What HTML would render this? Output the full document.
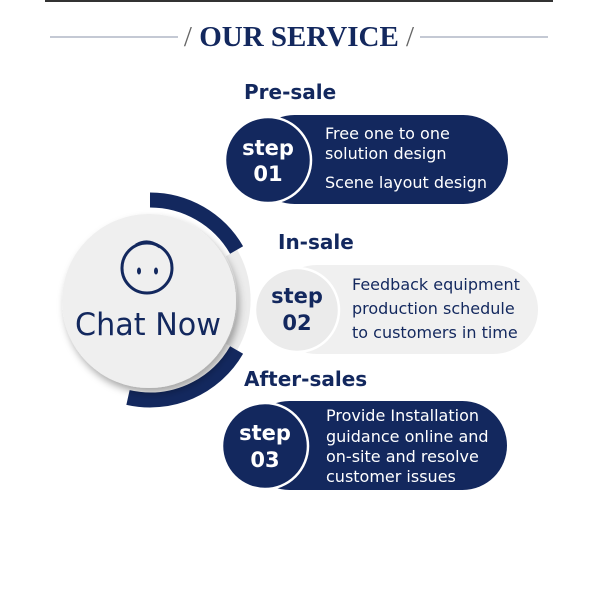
<!DOCTYPE html>
<html><head><style>body{margin:0;background:#fff}svg{display:block}</style></head><body>
<svg width="600" height="600" viewBox="0 0 600 600" xmlns="http://www.w3.org/2000/svg">
<defs><filter id="sh" x="-20%" y="-20%" width="150%" height="150%"><feDropShadow dx="3" dy="5" stdDeviation="4" flood-color="#000" flood-opacity="0.35"/></filter></defs>
<rect x="45" y="0" width="508" height="2" fill="#333"/>
<line x1="50" y1="37" x2="178" y2="37" stroke="#8a93a8" stroke-width="1"/>
<line x1="420" y1="37" x2="548" y2="37" stroke="#8a93a8" stroke-width="1"/>
<text x="299" y="46" text-anchor="middle" font-family="Liberation Serif, serif" font-weight="bold" font-size="29" fill="#13285e"><tspan font-weight="normal" fill="#666">/ </tspan>OUR SERVICE<tspan font-weight="normal" fill="#666"> /</tspan></text>

<!-- ring -->
<path d="M231.5 253 A94 94 0 0 1 231.5 347" fill="none" stroke="#ececec" stroke-width="13"/>
<path d="M150 200 A100 100 0 0 1 236.6 250" fill="none" stroke="#13285e" stroke-width="15"/>
<path d="M236.6 350 A100 100 0 0 1 128 397.5" fill="none" stroke="#13285e" stroke-width="15"/>
<circle cx="149" cy="301" r="87" fill="#efefef" filter="url(#sh)"/>
<circle cx="147" cy="268" r="25" fill="none" stroke="#13285e" stroke-width="3"/>
<path d="M136 245 Q148 238 160 247" fill="none" stroke="#13285e" stroke-width="3"/>
<ellipse cx="139" cy="271" rx="2" ry="3.5" fill="#13285e"/>
<ellipse cx="156" cy="271" rx="2" ry="3.5" fill="#13285e"/>
<text x="148" y="335" text-anchor="middle" font-family="DejaVu Sans, sans-serif" font-size="31" fill="#13285e" textLength="146" lengthAdjust="spacingAndGlyphs">Chat Now</text>

<g font-family="DejaVu Sans, sans-serif">
<text x="244" y="99" font-weight="bold" font-size="20" fill="#13285e">Pre-sale</text>
<rect x="250" y="115" width="258" height="89" rx="44.5" fill="#13285e"/>
<circle cx="268" cy="160" r="43" fill="#13285e" stroke="#fff" stroke-width="2.5"/>
<text x="268" y="155" text-anchor="middle" font-weight="bold" font-size="21" fill="#fff">step</text>
<text x="268" y="181" text-anchor="middle" font-weight="bold" font-size="21" fill="#fff">01</text>
<g font-size="16" fill="#fff"><text x="325" y="139">Free one to one</text><text x="325" y="159">solution design</text><text x="325" y="188">Scene layout design</text></g>

<text x="278" y="249" font-weight="bold" font-size="20" fill="#13285e">In-sale</text>
<rect x="272" y="265" width="266" height="89" rx="44.5" fill="#f0f0f0"/>
<circle cx="297" cy="310" r="42" fill="#ebebeb" stroke="#fff" stroke-width="2.5"/>
<text x="297" y="303" text-anchor="middle" font-weight="bold" font-size="21" fill="#13285e">step</text>
<text x="297" y="330" text-anchor="middle" font-weight="bold" font-size="21" fill="#13285e">02</text>
<g font-size="16" fill="#13285e"><text x="352" y="290">Feedback equipment</text><text x="352" y="314">production schedule</text><text x="352" y="338">to customers in time</text></g>

<text x="244" y="386" font-weight="bold" font-size="20" fill="#13285e">After-sales</text>
<rect x="245" y="401" width="262" height="89" rx="44.5" fill="#13285e"/>
<circle cx="265" cy="446" r="43" fill="#13285e" stroke="#fff" stroke-width="2.5"/>
<text x="265" y="440" text-anchor="middle" font-weight="bold" font-size="21" fill="#fff">step</text>
<text x="265" y="467" text-anchor="middle" font-weight="bold" font-size="21" fill="#fff">03</text>
<g font-size="16" fill="#fff"><text x="326" y="421">Provide Installation</text><text x="326" y="442">guidance online and</text><text x="326" y="462">on-site and resolve</text><text x="326" y="482">customer issues</text></g>
</g>
</svg>
</body></html>
